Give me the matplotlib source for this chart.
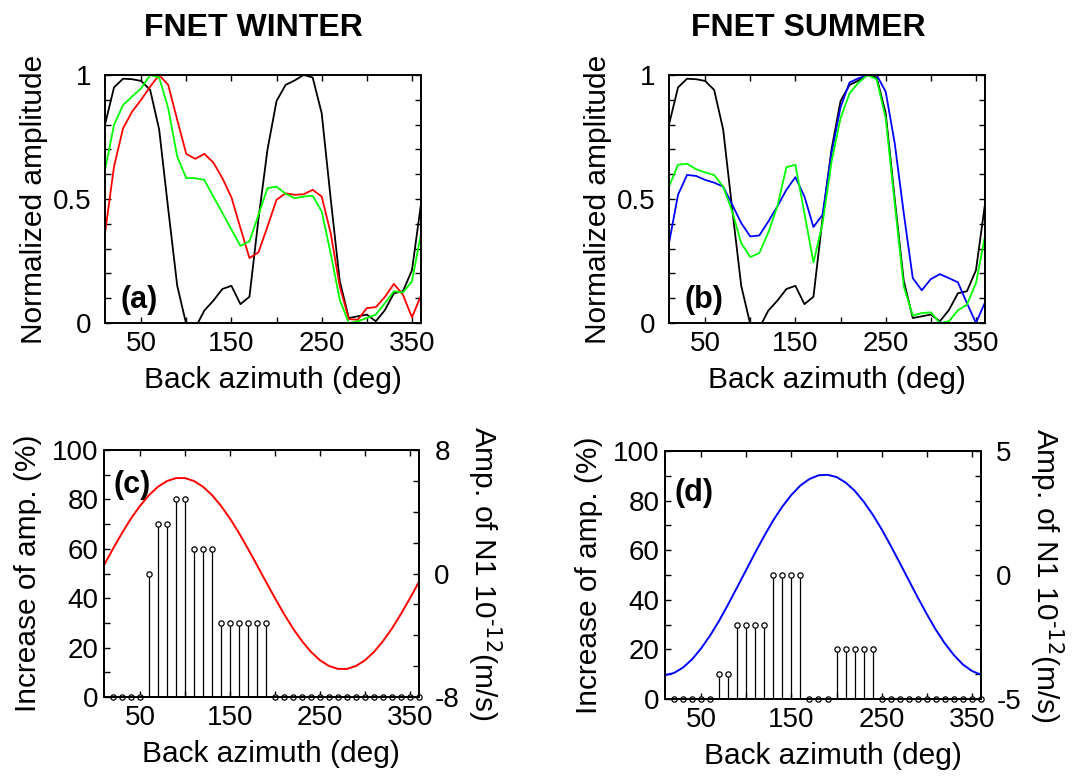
import numpy as np
import matplotlib
matplotlib.use("Agg")
import matplotlib.pyplot as plt
from matplotlib.ticker import MultipleLocator

plt.rcParams['font.family'] = ['Liberation Sans', 'DejaVu Sans']
plt.rcParams['mathtext.default'] = 'regular'
plt.rcParams['axes.unicode_minus'] = False
plt.rcParams['font.size'] = 20
plt.rcParams['axes.labelsize'] = 21.5

# back azimuth grid (deg)
baz = np.arange(10, 361, 10)
baz_stem = np.arange(20, 361, 10)

# normalized amplitudes
model_black = [0.80, 0.95, 0.985, 0.983, 0.976, 0.94, 0.78, 0.46, 0.15, -0.005,
               -0.02, 0.05, 0.09, 0.137, 0.15, 0.076, 0.106, 0.42, 0.70, 0.895,
               0.96, 0.978, 1.0, 0.99, 0.846, 0.50, 0.17, 0.02, 0.027, 0.034,
               0.007, 0.052, 0.12, 0.128, 0.213, 0.48]
winter_red = [0.362, 0.631, 0.785, 0.852, 0.90, 0.953, 1.0, 0.96, 0.819, 0.682,
              0.662, 0.682, 0.647, 0.584, 0.507, 0.383, 0.262, 0.285, 0.389, 0.497,
              0.523, 0.517, 0.519, 0.537, 0.51, 0.362, 0.148, 0.016, 0.013, 0.06,
              0.064, 0.105, 0.158, 0.114, 0.023, 0.11]
winter_green = [0.617, 0.799, 0.879, 0.913, 0.946, 1.0, 0.99, 0.866, 0.671, 0.584,
                0.584, 0.577, 0.51, 0.444, 0.377, 0.311, 0.329, 0.436, 0.544, 0.55,
                0.521, 0.503, 0.51, 0.513, 0.45, 0.28, 0.094, 0.0, 0.007, 0.02,
                0.034, 0.08, 0.128, 0.123, 0.168, 0.36]
summer_blue = [0.322, 0.517, 0.597, 0.593, 0.577, 0.566, 0.55, 0.477, 0.403, 0.349,
               0.353, 0.409, 0.47, 0.537, 0.588, 0.51, 0.387, 0.436, 0.685, 0.87,
               0.97, 0.987, 1.0, 1.0, 0.933, 0.725, 0.443, 0.181, 0.132, 0.177,
               0.197, 0.181, 0.164, 0.08, 0.0, 0.083]
summer_green = [0.55, 0.638, 0.642, 0.62, 0.607, 0.597, 0.55, 0.45, 0.322, 0.266,
                0.282, 0.365, 0.47, 0.628, 0.638, 0.443, 0.244, 0.40, 0.65, 0.826,
                0.926, 0.97, 1.0, 0.983, 0.826, 0.483, 0.148, 0.03, 0.04, 0.043,
                0.0, 0.007, 0.051, 0.074, 0.161, 0.352]

# increase of amplitude (%)
winter_inc = [0, 0, 0, 0, 50, 70, 70, 80, 80, 60, 60, 60, 30, 30, 30, 30, 30, 30,
              0, 0, 0, 0, 0, 0, 0, 0, 0, 0, 0, 0, 0, 0, 0, 0, 0]
summer_inc = [0, 0, 0, 0, 0, 10, 10, 30, 30, 30, 30, 50, 50, 50, 50, 0, 0, 0,
              20, 20, 20, 20, 20, 0, 0, 0, 0, 0, 0, 0, 0, 0, 0, 0, 0]

# amplitude of N1 (1e-12 m/s)
winter_n1 = [0.54, 1.60, 2.62, 3.56, 4.38, 5.08, 5.62, 5.99, 6.18, 6.18,
             5.99, 5.62, 5.08, 4.38, 3.56, 2.62, 1.60, 0.54, -0.54, -1.60,
             -2.62, -3.56, -4.38, -5.08, -5.62, -5.99, -6.18, -6.18, -5.99, -5.62,
             -5.08, -4.38, -3.56, -2.62, -1.60, -0.54]
summer_n1 = [-4.04, -3.95, -3.73, -3.40, -2.96, -2.44, -1.84, -1.18, -0.49, 0.21,
             0.91, 1.58, 2.21, 2.76, 3.23, 3.61, 3.87, 4.02, 4.04, 3.95,
             3.73, 3.40, 2.96, 2.44, 1.84, 1.18, 0.49, -0.21, -0.91, -1.58,
             -2.21, -2.76, -3.23, -3.61, -3.87, -4.02]

W, H = 1072, 782
fig = plt.figure(figsize=(W / 100, H / 100), dpi=100)


def box(l, t, r, b):
    return [l / W, 1 - b / H, (r - l) / W, (b - t) / H]


def xaxis_style(ax):
    ax.set_xlim(10, 360)
    ax.set_xticks([50, 150, 250, 350])
    ax.set_xticks([100, 200, 300], minor=True)
    ax.tick_params(axis='x', which='both', direction='in', top=True,
                   length=4, width=1, pad=6)
    ax.set_xlabel('Back azimuth (deg)')
    ax.xaxis.set_label_coords(0.53, -0.175)
    for s in ax.spines.values():
        s.set_linewidth(1.4)


def amp_panel(ax, lines, tag):
    ax.plot(baz, model_black, color='k', lw=1.3)
    for y, c in lines:
        ax.plot(baz, y, color=c, lw=1.3)
    xaxis_style(ax)
    ax.set_ylim(0, 1)
    ax.set_yticks([0, 0.5, 1])
    ax.set_yticklabels(['0', '0.5', '1'])
    ax.yaxis.set_minor_locator(MultipleLocator(0.1))
    ax.tick_params(axis='y', which='both', direction='in', right=True,
                   length=4, width=1, pad=10)
    ax.set_ylabel('Normalized amplitude')
    ax.yaxis.set_label_coords(-0.18, 0.5)
    ax.text(0.05, 0.06, tag, transform=ax.transAxes, fontsize=22,
            fontweight='bold', va='baseline')


def inc_panel(ax, inc, n1, color, lim, minor, tag, tag_y):
    ml, sl, bl = ax.stem(baz_stem, inc, linefmt='k-', markerfmt='ko')
    ml.set(markersize=3.8, markerfacecolor='white', markeredgecolor='k',
           markeredgewidth=0.9, clip_on=False)
    sl.set_linewidth(0.9)
    bl.set_visible(False)
    xaxis_style(ax)
    ax.set_ylim(0, 100)
    ax.set_yticks([0, 20, 40, 60, 80, 100])
    ax.yaxis.set_minor_locator(MultipleLocator(10))
    ax.tick_params(axis='y', which='both', direction='in', left=True,
                   right=False, length=4, width=1, pad=4)
    ax.set_ylabel('Increase of amp. (%)')
    ax.yaxis.set_label_coords(-0.197, 0.5)
    ax.text(0.03, tag_y, tag, transform=ax.transAxes, fontsize=22,
            fontweight='bold', va='baseline')

    ax2 = ax.twinx()
    ax2.plot(baz, n1, color=color, lw=1.4)
    ax2.set_xlim(10, 360)
    ax2.set_ylim(-lim, lim)
    ax2.set_yticks([-lim, 0, lim])
    ax2.yaxis.set_minor_locator(MultipleLocator(minor))
    ax2.tick_params(axis='y', which='both', direction='in', right=True,
                    left=False, length=4, width=1, pad=11)
    ax2.set_ylabel(r'Amp. of N1 10$^{\text{-12}}$(m/s)', rotation=270, va='bottom')
    ax2.yaxis.set_label_coords(1.149, 0.5)
    for s in ax2.spines.values():
        s.set_linewidth(1.4)


ax_a = fig.add_axes(box(105, 75, 421, 323))
ax_b = fig.add_axes(box(669, 75, 985, 323))
ax_c = fig.add_axes(box(104, 450, 419, 697))
ax_d = fig.add_axes(box(665, 451, 981, 699))

amp_panel(ax_a, [(winter_red, '#ff0000'), (winter_green, '#00ff00')], '(a)')
amp_panel(ax_b, [(summer_blue, '#0000ff'), (summer_green, '#00ff00')], '(b)')
inc_panel(ax_c, winter_inc, winter_n1, '#ff0000', 8, 2, '(c)', 0.826)
inc_panel(ax_d, summer_inc, summer_n1, '#0000ff', 5, 1, '(d)', 0.80)

fig.text(253 / W, 1 - 36 / H, 'FNET WINTER', ha='center', va='baseline',
         fontsize=23, fontweight='bold')
fig.text(808 / W, 1 - 36 / H, 'FNET SUMMER', ha='center', va='baseline',
         fontsize=23, fontweight='bold')

fig.savefig('out.png', dpi=100)
